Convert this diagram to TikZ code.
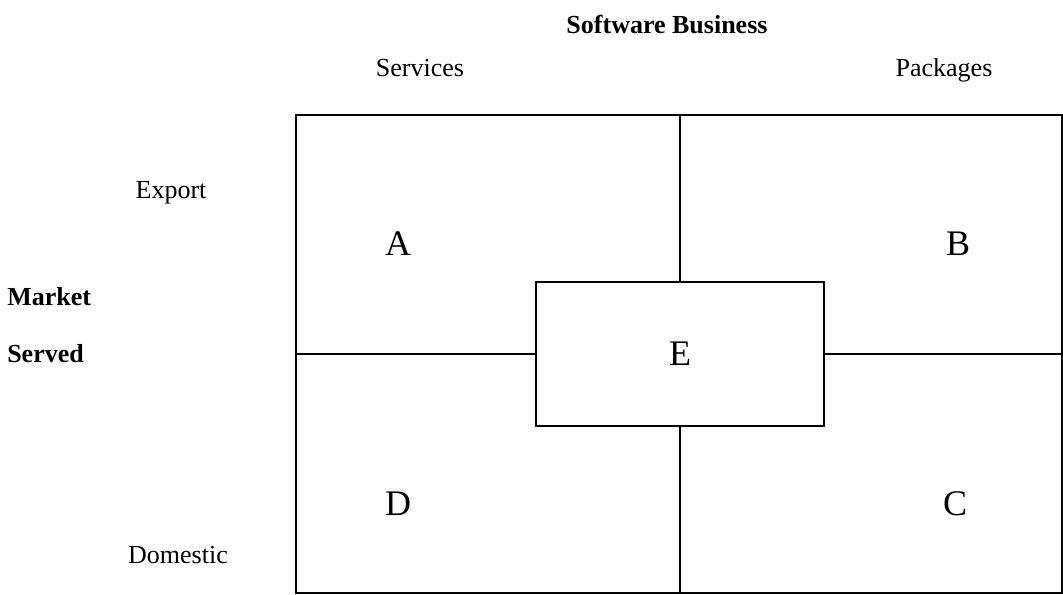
\documentclass[tikz,border=0pt]{standalone}
\usepackage{fontspec}
\setmainfont{Liberation Serif}
\usetikzlibrary{positioning}

\begin{document}
\begin{tikzpicture}[
  x=0.75pt, y=-0.75pt,
  frame/.style={draw=black,line width=1.5pt},
  hdr/.style={font=\fontsize{19.5}{23}\selectfont\bfseries,anchor=base,inner sep=0pt},
  lbl/.style={font=\fontsize{19.5}{23}\selectfont,anchor=base,inner sep=0pt},
  cell/.style={font=\fontsize{27}{32}\selectfont,anchor=base,inner sep=0pt}
]
\useasboundingbox (0,0) rectangle (1063,595);

% ---- axis headings ----
\node[hdr] (biz) at (667,34) {Software Business};
\node[lbl] (svc) at (420,77) {Services};
\node[lbl] (pkg) at (944,77) {Packages};
\node[lbl] (exp) at (171,199) {Export};
\node[lbl] (dom) at (178,563) {Domestic};
\node[hdr,anchor=base west] (mkt) at (7,305) {Market};
\node[hdr,anchor=base west] (srv) at (7,362) {Served};

% ---- outer grid ----
\coordinate (nw) at (296,115);
\coordinate (se) at (1062,593);
\coordinate (top) at (680,115);
\coordinate (bot) at (680,593);
\coordinate (lft) at (296,354);
\coordinate (rgt) at (1062,354);
\draw[frame] (nw) rectangle (se);

% centre box, joined to the grid lines
\node[frame,minimum width=216pt,minimum height=108pt,
      font=\fontsize{27}{32}\selectfont] (e) at (680,354) {E};
\draw[frame] (top) -- (e.north);
\draw[frame] (e.south) -- (bot);
\draw[frame] (lft) -- (e.west);
\draw[frame] (e.east) -- (rgt);

% ---- quadrant letters ----
\node[cell] (a) at (398,256) {A};
\node[cell] (b) at (958,256) {B};
\node[cell] (c) at (955,515) {C};
\node[cell] (d) at (398,515) {D};

\end{tikzpicture}
\end{document}
